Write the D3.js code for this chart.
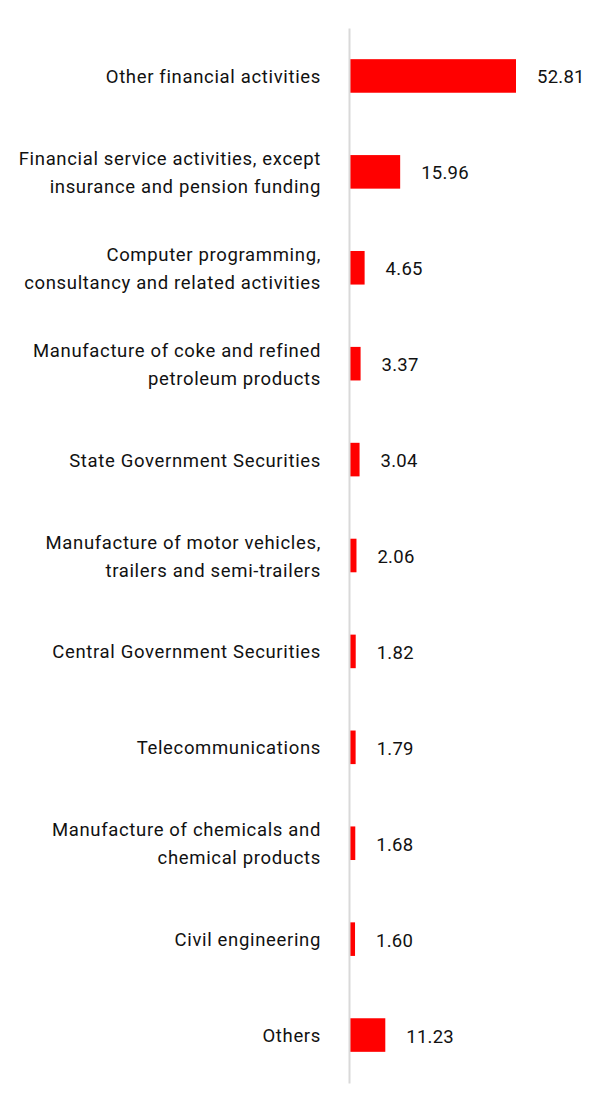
<!DOCTYPE html>
<html>
<head>
<meta charset="utf-8">
<script src="https://cdn.jsdelivr.net/npm/d3@7"></script>
<style>
  body { margin: 0; background: #fff; }
  text { font-family: Roboto, "Noto Sans", sans-serif; }
</style>
</head>
<body>
<div id="chart"></div>
<script>
const categories = [
  ["Other financial activities"],
  ["Financial service activities, except", "insurance and pension funding"],
  ["Computer programming,", "consultancy and related activities"],
  ["Manufacture of coke and refined", "petroleum products"],
  ["State Government Securities"],
  ["Manufacture of motor vehicles,", "trailers and semi-trailers"],
  ["Central Government Securities"],
  ["Telecommunications"],
  ["Manufacture of chemicals and", "chemical products"],
  ["Civil engineering"],
  ["Others"]
]
const values = [52.81, 15.96, 4.65, 3.37, 3.04, 2.06, 1.82, 1.79, 1.68, 1.6, 11.23]

const width = 608
const height = 1107
const margin = [28, 92, 24, 350] // top right bottom left
const color = "#ff0000"

const I = d3.range(values.length)
const xScale = d3.scaleLinear()
  .domain([0, d3.max(values)])
  .range([margin[3], width - margin[1]])
const yScale = d3.scaleBand()
  .domain(I)
  .range([margin[0], height - margin[2]])
  .paddingInner(0.65)
  .paddingOuter(0.325)

const svg = d3.select("#chart")
  .append("svg")
  .attr("width", width)
  .attr("height", height)
  .attr("viewBox", [0, 0, width, height])

// bars
svg.append("g")
  .attr("fill", color)
  .selectAll("rect")
  .data(I)
  .join("rect")
  .attr("x", xScale(0))
  .attr("y", i => yScale(i))
  .attr("width", i => xScale(values[i]) - xScale(0))
  .attr("height", yScale.bandwidth())

// axis line (left)
const yAxis = d3.axisLeft(yScale).tickSize(0).tickFormat("")
svg.append("g")
  .attr("transform", `translate(${margin[3] - 1},0)`)
  .call(yAxis)
  .call(g => g.select(".domain").attr("stroke", "#d9d9d9").attr("stroke-width", 2))

// category labels
const lineH = 28
svg.append("g")
  .attr("text-anchor", "end")
  .attr("font-size", 18.5)
  .attr("letter-spacing", 0.66)
  .attr("fill", "#111")
  .selectAll("text")
  .data(I)
  .join("text")
  .attr("x", 321)
  .attr("y", i => yScale(i) + yScale.bandwidth() / 2 + 1)
  .each(function (i) {
    const lines = categories[i]
    const y0 = -(lines.length - 1) * lineH / 2
    d3.select(this).selectAll("tspan")
      .data(lines)
      .join("tspan")
      .attr("x", 321)
      .attr("dy", (d, j) => j === 0 ? y0 : lineH)
      .attr("dominant-baseline", "central")
      .text(d => d)
  })

// value labels
svg.append("g")
  .attr("font-size", 18.5)
  .attr("letter-spacing", 0.25)
  .attr("fill", "#111")
  .selectAll("text")
  .data(I)
  .join("text")
  .attr("x", i => xScale(values[i]) + 21)
  .attr("y", i => yScale(i) + yScale.bandwidth() / 2 + 1)
  .attr("dy", "0.35em")
  .text(i => values[i].toFixed(2))
</script>
</body>
</html>
